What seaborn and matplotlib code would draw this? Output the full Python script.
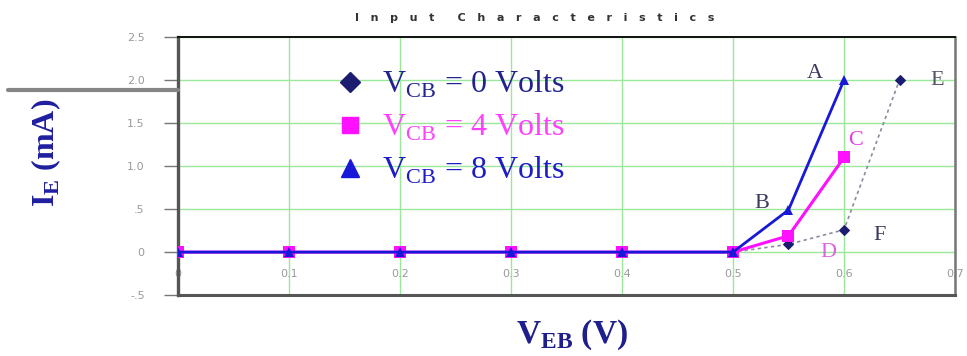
import numpy as np
import pandas as pd
import seaborn as sns
import matplotlib.pyplot as plt
from matplotlib.lines import Line2D

# data
veb_0v = [0.0, 0.1, 0.2, 0.3, 0.4, 0.5, 0.55, 0.6, 0.65]
ie_0v = [0, 0, 0, 0, 0, 0, 0.09, 0.26, 2.0]
veb_4v = [0.0, 0.1, 0.2, 0.3, 0.4, 0.5, 0.55, 0.6]
ie_4v = [0, 0, 0, 0, 0, 0, 0.19, 1.1]
veb_8v = [0.0, 0.1, 0.2, 0.3, 0.4, 0.5, 0.55, 0.6]
ie_8v = [0, 0, 0, 0, 0, 0, 0.49, 2.0]

series_names = ["V$_{\\rm CB}$ = 0 Volts", "V$_{\\rm CB}$ = 4 Volts", "V$_{\\rm CB}$ = 8 Volts"]
x_ticks = [0, 0.1, 0.2, 0.3, 0.4, 0.5, 0.6, 0.7]
x_ticklabels = ["0", "0.1", "0.2", "0.3", "0.4", "0.5", "0.6", "0.7"]
y_ticks = [-0.5, 0, 0.5, 1.0, 1.5, 2.0, 2.5]
y_ticklabels = ["-.5", "0", ".5", "1.0", "1.5", "2.0", "2.5"]

# point labels A..F
pt_labels = ["A", "B", "C", "D", "E", "F"]
pt_x = [0.574, 0.526, 0.61, 0.586, 0.684, 0.632]
pt_y = [2.08, 0.57, 1.30, -0.01, 1.99, 0.19]
pt_colors = ["#3a3a5e", "#3a3a5e", "#e040e0", "#e060e0", "#555566", "#3a3a5e"]

df = pd.concat([
    pd.DataFrame({"veb": veb_0v, "ie": ie_0v, "s": series_names[0]}),
    pd.DataFrame({"veb": veb_4v, "ie": ie_4v, "s": series_names[1]}),
    pd.DataFrame({"veb": veb_8v, "ie": ie_8v, "s": series_names[2]}),
])

sns.set_style("white")
plt.rcParams["font.family"] = ["Liberation Serif", "DejaVu Serif"]
plt.rcParams["mathtext.fontset"] = "custom"
plt.rcParams["mathtext.rm"] = "Liberation Serif"
plt.rcParams["mathtext.bf"] = "Liberation Serif:bold"

navy = "#1c1c70"
magenta = "#ff10ff"
blue = "#1818d8"

fig = plt.figure(figsize=(9.67, 3.56), dpi=100)
ax = fig.add_axes([0.184, 0.171, 0.8036, 0.725])

# VCB = 0: dotted grey line with navy diamonds
sns.lineplot(data=df[df.s == series_names[0]], x="veb", y="ie", ax=ax,
             color="#8a8aa0", lw=1.2, linestyle=(0, (2, 2)), marker="D", ms=5,
             markerfacecolor=navy, markeredgecolor=navy, legend=False, zorder=3)
# VCB = 4
sns.lineplot(data=df[df.s == series_names[1]], x="veb", y="ie", ax=ax,
             color=magenta, lw=2.2, marker="s", ms=8, markeredgewidth=0,
             legend=False, zorder=4)
# VCB = 8
sns.lineplot(data=df[df.s == series_names[2]], x="veb", y="ie", ax=ax,
             color=blue, lw=2.0, marker="^", ms=7, markeredgewidth=0,
             legend=False, zorder=5)

ax.set_xlim(0, 0.7)
ax.set_ylim(-0.5, 2.5)
ax.set_xticks(x_ticks)
ax.set_xticklabels(x_ticklabels)
ax.set_yticks(y_ticks)
ax.set_yticklabels(y_ticklabels)
ax.grid(True, color="#9be89b", lw=1.0)
ax.set_xlabel("")
ax.set_ylabel("")

ax.tick_params(axis="x", length=0, pad=-19, labelsize=8, labelcolor="#999999")
ax.tick_params(axis="y", length=10, width=1, color="#777777", pad=14,
               labelsize=8, labelcolor="#999999", left=True)
for lab in ax.get_xticklabels() + ax.get_yticklabels():
    lab.set_family("DejaVu Sans")

for side, c, w in [("left", "#555555", 2.4), ("bottom", "#555555", 2.2),
                   ("top", "#111111", 1.4), ("right", "#777777", 1.8)]:
    ax.spines[side].set_color(c)
    ax.spines[side].set_linewidth(w)
    ax.spines[side].set_visible(True)

for t, x, y, c in zip(pt_labels, pt_x, pt_y, pt_colors):
    ax.text(x, y, t, color=c, fontsize=16, ha="center", va="center", zorder=6)

handles = [
    Line2D([], [], ls="", marker="D", color=navy, ms=10),
    Line2D([], [], ls="", marker="s", color=magenta, ms=11),
    Line2D([], [], ls="", marker="^", color=blue, ms=13),
]
ax.legend(handles, series_names, loc="upper left", bbox_to_anchor=(0.203, 0.876),
          frameon=False, fontsize=23, handlelength=0.9, handletextpad=0.55,
          labelspacing=0.36, borderpad=0, borderaxespad=0,
          labelcolor=["#232390", "#ff40ff", "#1c1cc8"])

title = "   ".join("Input") + "      " + "   ".join("Characteristics")
fig.text(0.553, 0.95, title, ha="center", va="center", fontsize=8,
         fontweight="bold", color="#333333", family="DejaVu Sans")
fig.text(0.048, 0.57, "I$_{\\mathbf{E}}$ (mA)", rotation=90, ha="center",
         va="center", fontsize=23, fontweight="bold", color="#1e1ea0")
fig.text(0.591, 0.06, "V$_{\\mathbf{EB}}$ (V)", ha="center", va="center",
         fontsize=24, fontweight="bold", color="#1e1e8c")

# stray grey bar at the left edge
fig.add_artist(Line2D([0.008, 0.184], [1 - 90 / 356] * 2,
                      transform=fig.transFigure, color="#858585", lw=3))

fig.savefig("out.png", dpi=100)
